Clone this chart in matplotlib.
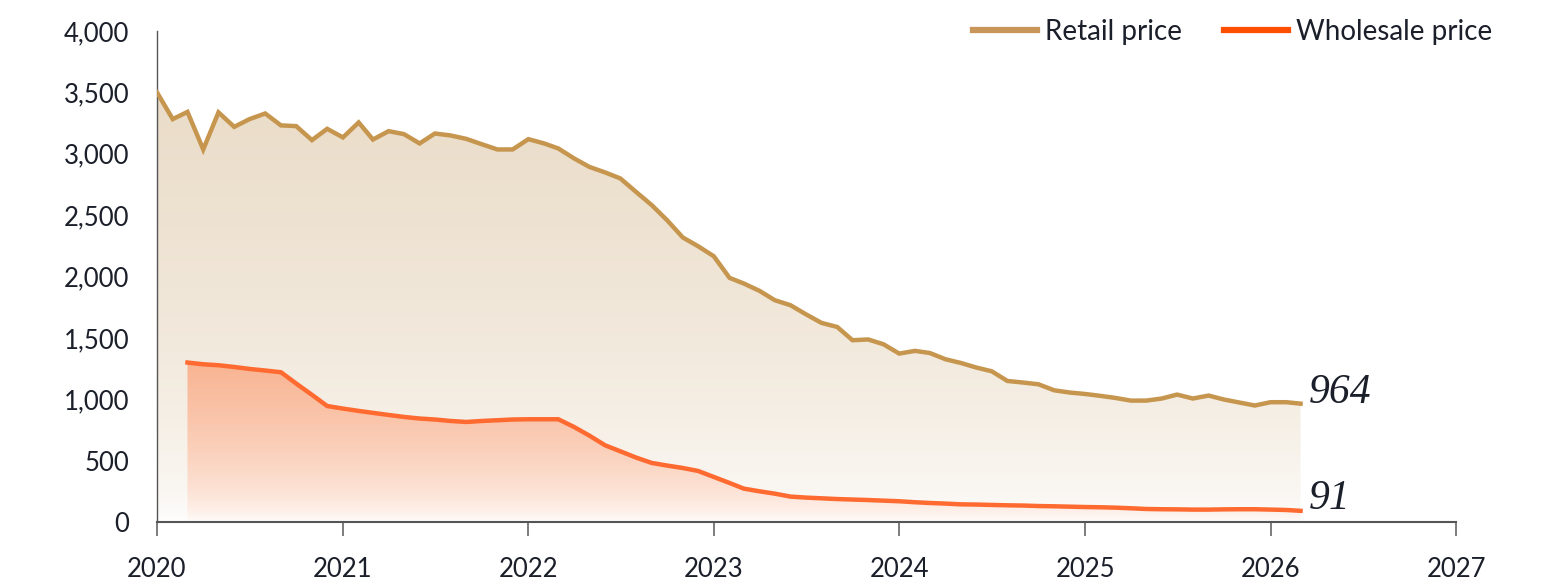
import matplotlib
matplotlib.use("Agg")
import matplotlib.pyplot as plt
import matplotlib.dates as mdates
from matplotlib.lines import Line2D
import numpy as np
import pandas as pd

# monthly prices, Jan 2020 .. Mar 2026
retail_start = "2020-01-01"
retail = [3500, 3282, 3341, 3035, 3337, 3219, 3282, 3328, 3231, 3225,
          3111, 3203, 3133, 3255, 3116, 3184, 3160, 3084, 3165, 3149,
          3121, 3078, 3035, 3035, 3119, 3084, 3043, 2962, 2893, 2848,
          2799, 2689, 2581, 2459, 2318, 2247, 2165, 1989, 1943, 1883,
          1807, 1766, 1693, 1622, 1589, 1481, 1487, 1448, 1372, 1394,
          1377, 1326, 1296, 1258, 1228, 1149, 1136, 1122, 1073, 1055,
          1043, 1027, 1011, 989, 989, 1006, 1038, 1006, 1030, 998,
          973, 949, 976, 976, 964]

# wholesale starts Mar 2020
wholesale_start = "2020-03-01"
wholesale = [1299, 1285, 1277, 1263, 1247, 1234, 1220, 1128, 1036, 945,
             924, 905, 889, 872, 856, 843, 835, 823, 815, 823,
             829, 835, 837, 837, 837, 774, 704, 625, 576, 525,
             481, 460, 440, 416, 367, 318, 272, 250, 231, 207,
             199, 193, 187, 183, 179, 174, 169, 161, 155, 150,
             144, 142, 139, 136, 134, 130, 128, 125, 122, 120,
             117, 112, 106, 104, 103, 101, 101, 103, 104, 104,
             101, 98, 91]

series_names = ["Retail price", "Wholesale price"]
y_ticks = [0, 500, 1000, 1500, 2000, 2500, 3000, 3500, 4000]

retail_dates = pd.date_range(retail_start, periods=len(retail), freq="MS")
wholesale_dates = pd.date_range(wholesale_start, periods=len(wholesale), freq="MS")

plt.rcParams['font.family'] = ['Lato', 'DejaVu Sans']
text_col = "#1b1f2a"
retail_col = "#c6964f"
whole_col = "#ff6a30"

fig = plt.figure(figsize=(15.63, 5.86), dpi=100)
ax = fig.add_axes([157 / 1563, 64 / 586, 1299 / 1563, 491 / 586])


def gradient_fill(ax, dates, vals, top_rgb, ymax, power, z):
    poly = ax.fill_between(dates, vals, 0, facecolor="none", edgecolor="none")
    x = mdates.date2num(dates)
    h = 256
    t = (np.linspace(0, 1, h) ** power)[:, None]
    top = np.array(top_rgb) / 255.0
    img = np.ones((h, 2, 3)) * (1 - t[..., None]) + top[None, None, :] * t[..., None]
    im = ax.imshow(img, extent=[x[0], x[-1], 0, ymax], origin="lower",
                   aspect="auto", zorder=z, interpolation="bilinear")
    path = poly.get_paths()[0]
    im.set_clip_path(path, transform=ax.transData)
    return im


gradient_fill(ax, retail_dates, retail, (234, 220, 200), 3500, 0.55, 1)
gradient_fill(ax, wholesale_dates, wholesale, (248, 180, 146), 1300, 0.6, 2)

ax.plot(retail_dates, retail, color=retail_col, lw=3.2, zorder=3,
        solid_joinstyle="miter")
ax.plot(wholesale_dates, wholesale, color=whole_col, lw=3.2, zorder=4,
        solid_joinstyle="miter")

# end value labels
ax.annotate(f"{retail[-1]}", (retail_dates[-1], retail[-1]), xytext=(6, 8),
            textcoords="offset points", ha="left", va="center",
            family="Liberation Serif", style="italic", fontsize=30,
            color=text_col)
ax.annotate(f"{wholesale[-1]}", (wholesale_dates[-1], wholesale[-1]), xytext=(6, 9),
            textcoords="offset points", ha="left", va="center",
            family="Liberation Serif", style="italic", fontsize=30,
            color=text_col)

ax.set_xlim(pd.Timestamp("2020-01-01"), pd.Timestamp("2027-01-01"))
ax.set_ylim(0, 4000)
ax.xaxis.set_major_locator(mdates.YearLocator())
ax.xaxis.set_major_formatter(mdates.DateFormatter("%Y"))
ax.set_yticks(y_ticks)
ax.set_yticklabels([f"{v:,}" for v in y_ticks])

for s in ["top", "right"]:
    ax.spines[s].set_visible(False)
ax.spines["left"].set_color("#555555")
ax.spines["left"].set_linewidth(1.0)
ax.spines["bottom"].set_color("#555555")
ax.spines["bottom"].set_linewidth(1.5)
ax.tick_params(axis="y", length=0, pad=20, labelsize=18.5, labelcolor=text_col)
ax.tick_params(axis="x", length=10, width=1.2, color="#666666", pad=15,
               labelsize=18.5, labelcolor=text_col)

handles = [Line2D([], [], color="#c8965a", lw=4.5),
           Line2D([], [], color="#ff4e00", lw=4.5)]
fig.legend(handles, series_names, loc="upper right", ncol=2, frameon=False,
           bbox_to_anchor=(1506 / 1563, 1 - 5 / 586), fontsize=20,
           handlelength=2.3, handletextpad=0.3, columnspacing=1.5,
           borderpad=0, labelcolor=text_col)

fig.savefig("out.png", dpi=100)
